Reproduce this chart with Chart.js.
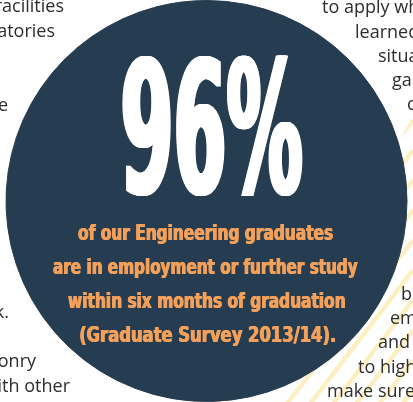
<!DOCTYPE html>
<html>
<head>
<meta charset="utf-8">
<script src="https://cdn.jsdelivr.net/npm/chart.js@4.4.1/dist/chart.umd.min.js"></script>
<style>
  html, body { margin: 0; padding: 0; background: #fff; }
  #wrap { width: 413px; height: 402px; position: relative; }
</style>
</head>
<body>
<div id="wrap"><canvas id="statChart" width="413" height="402"></canvas></div>
<script>
// data
const categories = ['In employment or further study', 'Other'];
const shareValues = [96, 4];
const headline = '96%';
const captionLines = [
  'of our Engineering graduates',
  'are in employment or further study',
  'within six months of graduation',
  '(Graduate Survey 2013/14).'
];
const leftColumn = ['facilities', 'laboratories', 'the', 'work.', 'masonry', 'with other'];
const rightColumn = ['to apply what they', 'learned in real', 'situations and', 'gain', 'confidence', 'both', 'employers', 'and', 'to higher', 'make sure that'];

const NAVY = '#263c50';
const ORANGE = '#f2a05a';
const CONDENSED = '"DejaVu Sans Condensed", "DejaVu Sans"';

// page background: striped panel + cut-off body copy
const backdrop = {
  id: 'backdrop',
  beforeDraw(chart) {
    const ctx = chart.ctx;
    ctx.save();
    ctx.fillStyle = '#fff';
    ctx.fillRect(0, 0, chart.width, chart.height);

    // pale yellow diagonal stripes on the right
    ctx.beginPath();
    ctx.moveTo(413, 115);
    ctx.lineTo(413, 402);
    ctx.lineTo(270, 402);
    ctx.closePath();
    ctx.clip();
    ctx.strokeStyle = '#fcefc2';
    ctx.lineWidth = 4.5;
    for (let k = -20; k < 40; k++) {
      const y0 = 60 + k * 30;
      ctx.beginPath();
      ctx.moveTo(200, y0 + 1.3 * 213);
      ctx.lineTo(413, y0);
      ctx.stroke();
    }
    ctx.restore();

    ctx.save();
    ctx.fillStyle = '#2d2d2d';
    ctx.font = '18px "Open Sans"';
    ctx.textBaseline = 'alphabetic';
    ctx.textAlign = 'right';
    const leftPos = [[64, 12], [55, 37], [8, 111], [9, 318], [36, 367], [70, 392]];
    leftColumn.forEach((t, i) => ctx.fillText(t, leftPos[i][0], leftPos[i][1]));
    ctx.textAlign = 'left';
    const rightPos = [[322, 13], [355, 38], [378, 62], [392, 86], [407, 110],
                      [401, 300], [390, 324], [378, 348], [358, 373], [327, 397]];
    rightColumn.forEach((t, i) => ctx.fillText(t, rightPos[i][0], rightPos[i][1]));
    ctx.restore();
  }
};

// squeeze text into a box; capTop is the top of capitals, extra widens vertical stems
function fitText(ctx, text, left, right, capTop, baseline, font, extra) {
  ctx.font = font;
  const m = ctx.measureText(text);
  const cap = ctx.measureText('H').actualBoundingBoxAscent;
  const w = m.actualBoundingBoxLeft + m.actualBoundingBoxRight;
  const sx = (right - left - extra) / w;
  const sy = (baseline - capTop) / cap;
  const steps = Math.max(1, Math.round(extra * 2));
  for (let s = 0; s <= steps; s++) {
    const dx = left + (extra * s) / steps;
    ctx.save();
    ctx.translate(dx, baseline);
    ctx.scale(sx, sy);
    ctx.fillText(text, m.actualBoundingBoxLeft, 0);
    ctx.restore();
  }
}

const overlay = {
  id: 'overlay',
  afterDraw(chart) {
    const ctx = chart.ctx;
    ctx.save();
    ctx.textAlign = 'left';
    ctx.textBaseline = 'alphabetic';
    ctx.fillStyle = '#ffffff';
    fitText(ctx, headline, 122, 303, 58, 193, 'bold 100px ' + CONDENSED, 4);

    ctx.fillStyle = ORANGE;
    const boxes = [[78, 333, 224, 240], [53, 358, 258, 274], [68, 345, 292, 308], [80, 335, 326, 342]];
    captionLines.forEach((line, i) => {
      const b = boxes[i];
      fitText(ctx, line, b[0], b[1], b[2], b[3], 'bold 40px ' + CONDENSED, 1);
    });
    ctx.restore();
  }
};

new Chart(document.getElementById('statChart'), {
  type: 'pie',
  data: {
    labels: categories,
    datasets: [{
      data: shareValues,
      backgroundColor: [NAVY, NAVY],
      borderColor: NAVY,
      borderWidth: 1,
      hoverOffset: 0
    }]
  },
  options: {
    responsive: false,
    animation: false,
    layout: { padding: 0 },
    events: [],
    plugins: { legend: { display: false }, tooltip: { enabled: false } }
  },
  plugins: [backdrop, overlay]
});
</script>
</body>
</html>
